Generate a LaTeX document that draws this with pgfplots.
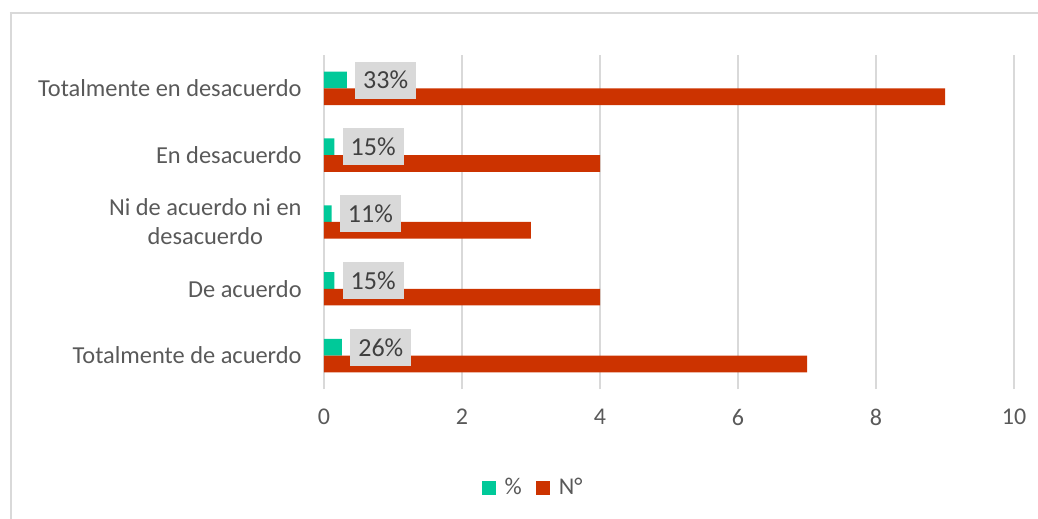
\documentclass[border=0pt]{standalone}
\usepackage{pgfplots}
\pgfplotsset{compat=1.18}
\usepackage{fontspec}
\setmainfont{Carlito}
\definecolor{teal1}{HTML}{00C999}
\definecolor{red1}{HTML}{CC3300}
\definecolor{gridc}{HTML}{D9D9D9}
\definecolor{txt}{HTML}{595959}
\definecolor{lbl}{HTML}{404040}
\begin{document}
\fontsize{12pt}{14.4pt}\selectfont
\begin{tikzpicture}
\path[use as bounding box] (-162pt,-65pt) rectangle (357pt,194.5pt);
\draw[gridc, line width=1pt] (-157pt,188pt) -- (357pt,188pt);
\draw[gridc, line width=1pt] (-156.5pt,188.5pt) -- (-156.5pt,-65pt);
\begin{axis}[
  at={(0,0)}, anchor=south west,
  scale only axis, width=345pt, height=167pt,
  xbar, bar width=0.25,
  xmin=0, xmax=10, ymin=-0.5, ymax=4.5,
  xtick={0,2,4,6,8,10},
  ytick={0,1,2,3,4},
  yticklabels={Totalmente de acuerdo, De acuerdo, {Ni de acuerdo ni en\\desacuerdo}, En desacuerdo, Totalmente en desacuerdo},
  yticklabel style={align=center, font=\fontsize{12.2pt}{14.5pt}\selectfont, text=txt, xshift=-7pt},
  xticklabel style={text=txt, font=\fontsize{12pt}{14.4pt}\selectfont, yshift=-6pt},
  /pgf/number format/assume math mode=true,
  major tick length=0pt,
  axis line style={draw=none},
  xmajorgrids, grid style={gridc, line width=0.75pt},
  legend style={at={(105pt,-49.5pt)}, anchor=center, draw=none, legend columns=2, font=\fontsize{12pt}{14.4pt}\selectfont, text=txt, /tikz/every even column/.append style={column sep=5pt}, /tikz/every odd column/.append style={column sep=2.5pt}},
  legend cell align=left,
  clip=false,
]
\addplot[draw=none, fill=teal1, bar shift=0.125,
  point meta=explicit symbolic,
  nodes near coords,
  every node near coord/.append style={anchor=west, xshift=4pt, fill=gridc, text=lbl, inner xsep=4pt, minimum height=18.5pt, font=\fontsize{13pt}{15pt}\selectfont},
  legend image code/.code={\fill[teal1] (0pt,-3.5pt) rectangle (7pt,3.5pt);}
] coordinates {(0.26,0) [26\%] (0.15,1) [15\%] (0.11,2) [11\%] (0.15,3) [15\%] (0.33,4) [33\%]};
\addlegendentry{\%}
\addplot[draw=none, fill=red1, bar shift=-0.125,
  legend image code/.code={\fill[red1] (0pt,-3.5pt) rectangle (7pt,3.5pt);}
] coordinates {(7,0) (4,1) (3,2) (4,3) (9,4)};
\addlegendentry{N°}
\end{axis}
\end{tikzpicture}
\end{document}
